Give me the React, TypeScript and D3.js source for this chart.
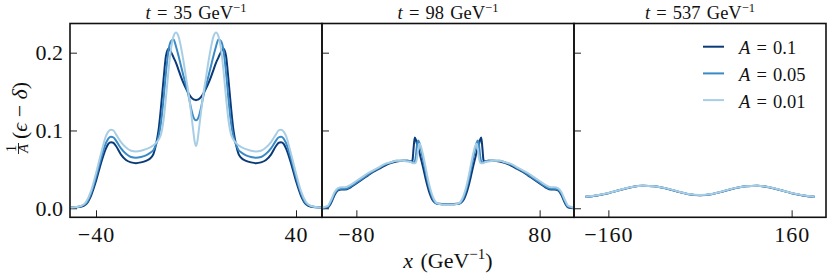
import React, { useEffect, useRef } from 'react';
import * as d3 from 'd3';

// panel 1: t = 35 GeV^-1
const x35 = [-50, -46, -44, -42, -40, -38, -36, -35, -34, -33, -32, -30, -28, -26, -24, -22, -20, -18, -17, -16, -15,
  -14, -13, -12, -11, -10, -9, -8, -7, -6, -5, -4, -3, -2, -1, -0.5, 0, 0.5, 1, 2, 3, 4, 5, 6, 7, 8, 9, 10, 11, 12, 13, 14,
  15, 16, 17, 18, 20, 22, 24, 26, 28, 30, 32, 33, 34, 35, 36, 38, 40, 42, 44, 46, 50];
const a01_t35 = [0.001, 0.002, 0.005, 0.016, 0.035, 0.058, 0.077, 0.083, 0.085, 0.084, 0.080, 0.069, 0.062, 0.059, 0.058, 0.059, 0.061, 0.065, 0.070, 0.082, 0.100,
  0.130, 0.165, 0.196, 0.205, 0.201, 0.194, 0.187, 0.178, 0.169, 0.161, 0.154, 0.148, 0.143, 0.140, 0.1395, 0.139, 0.1395, 0.140, 0.143, 0.148, 0.154,
  0.161, 0.169, 0.178, 0.187, 0.194, 0.201, 0.205, 0.196, 0.165, 0.130, 0.100, 0.082, 0.070, 0.065, 0.061, 0.059, 0.058, 0.059, 0.062, 0.069, 0.080,
  0.084, 0.085, 0.083, 0.077, 0.058, 0.035, 0.016, 0.005, 0.002, 0.001];
const a005_t35 = [0.001, 0.003, 0.006, 0.019, 0.040, 0.064, 0.084, 0.090, 0.092, 0.091, 0.087, 0.077, 0.070, 0.066, 0.065, 0.066, 0.068, 0.072, 0.075, 0.082, 0.092,
  0.110, 0.140, 0.175, 0.203, 0.215, 0.217, 0.208, 0.196, 0.183, 0.170, 0.158, 0.145, 0.129, 0.117, 0.114, 0.113, 0.114, 0.117, 0.129, 0.145, 0.158,
  0.170, 0.183, 0.196, 0.208, 0.217, 0.215, 0.203, 0.175, 0.140, 0.110, 0.092, 0.082, 0.075, 0.072, 0.068, 0.066, 0.065, 0.066, 0.070, 0.077, 0.087,
  0.091, 0.092, 0.090, 0.084, 0.064, 0.040, 0.019, 0.006, 0.003, 0.001];
const a001_t35 = [0.001, 0.003, 0.008, 0.022, 0.045, 0.070, 0.093, 0.099, 0.101, 0.100, 0.095, 0.085, 0.078, 0.074, 0.073, 0.074, 0.076, 0.079, 0.081, 0.084, 0.088,
  0.095, 0.113, 0.143, 0.177, 0.205, 0.221, 0.226, 0.221, 0.207, 0.189, 0.168, 0.148, 0.124, 0.097, 0.085, 0.080, 0.085, 0.097, 0.124, 0.148, 0.168,
  0.189, 0.207, 0.221, 0.226, 0.221, 0.205, 0.177, 0.143, 0.113, 0.095, 0.088, 0.084, 0.081, 0.079, 0.076, 0.074, 0.073, 0.074, 0.078, 0.085, 0.095,
  0.100, 0.101, 0.099, 0.093, 0.070, 0.045, 0.022, 0.008, 0.003, 0.001];

// panel 2: t = 98 GeV^-1
const x98 = [-110, -105, -102, -99, -96, -93, -90, -85, -80, -75, -70, -65, -60, -55, -50, -45, -40, -35, -32, -31, -30, -29, -28, -27, -26, -25, -24,
  -22, -20, -18, -16, -14, -12, -10, -5, 0, 5, 10, 12, 14, 16, 18, 20, 22, 24, 25, 26, 27, 28, 29, 30, 31, 32, 35, 40, 45, 50, 55, 60, 65, 70, 75,
  80, 85, 90, 93, 96, 99, 102, 105, 110];
const a01_t98 = [0.000, 0.001, 0.007, 0.017, 0.023, 0.024, 0.024, 0.027, 0.032, 0.037, 0.042, 0.047, 0.051, 0.055, 0.058, 0.060, 0.061, 0.061, 0.060, 0.062, 0.078, 0.091, 0.088, 0.082, 0.077, 0.072, 0.066,
  0.054, 0.041, 0.029, 0.019, 0.012, 0.008, 0.006, 0.0055, 0.0055, 0.0055, 0.006, 0.008, 0.012, 0.019, 0.029, 0.041, 0.054, 0.066, 0.072, 0.077, 0.082, 0.088, 0.091, 0.078, 0.062, 0.060, 0.061, 0.061, 0.060, 0.058, 0.055, 0.051, 0.047, 0.042, 0.037,
  0.032, 0.027, 0.024, 0.024, 0.023, 0.017, 0.007, 0.001, 0.000];
const a005_t98 = [0.000, 0.002, 0.009, 0.019, 0.024, 0.025, 0.025, 0.028, 0.033, 0.038, 0.043, 0.048, 0.052, 0.056, 0.059, 0.061, 0.061, 0.061, 0.060, 0.059, 0.059, 0.060, 0.068, 0.082, 0.087, 0.084, 0.078,
  0.064, 0.050, 0.036, 0.024, 0.015, 0.009, 0.006, 0.005, 0.005, 0.005, 0.006, 0.009, 0.015, 0.024, 0.036, 0.050, 0.064, 0.078, 0.084, 0.087, 0.082, 0.068, 0.060, 0.059, 0.059, 0.060, 0.061, 0.061, 0.061, 0.059, 0.056, 0.052, 0.048, 0.043, 0.038,
  0.033, 0.028, 0.025, 0.025, 0.024, 0.019, 0.009, 0.002, 0.000];
const a001_t98 = [0.001, 0.003, 0.011, 0.021, 0.026, 0.027, 0.027, 0.030, 0.035, 0.040, 0.045, 0.049, 0.053, 0.057, 0.059, 0.061, 0.061, 0.060, 0.059, 0.058, 0.058, 0.058, 0.059, 0.065, 0.077, 0.083, 0.081,
  0.070, 0.056, 0.041, 0.028, 0.018, 0.011, 0.007, 0.005, 0.005, 0.005, 0.007, 0.011, 0.018, 0.028, 0.041, 0.056, 0.070, 0.081, 0.083, 0.077, 0.065, 0.059, 0.058, 0.058, 0.058, 0.059, 0.060, 0.061, 0.061, 0.059, 0.057, 0.053, 0.049, 0.045, 0.040,
  0.035, 0.030, 0.027, 0.027, 0.026, 0.021, 0.011, 0.003, 0.001];

// panel 3: t = 537 GeV^-1
const x537 = [-200, -180, -160, -140, -120, -100, -80, -60, -40, -20, 0, 20, 40, 60, 80, 100, 120, 140, 160, 180, 200];
const a01_t537 = [0.0147, 0.0164, 0.0194, 0.0234, 0.0271, 0.0289, 0.0282, 0.0256, 0.0215, 0.0180, 0.0166, 0.0180, 0.0215, 0.0256, 0.0282, 0.0289, 0.0271, 0.0234, 0.0194, 0.0164, 0.0147];
const a005_t537 = [0.0148, 0.0165, 0.0195, 0.0235, 0.0272, 0.0290, 0.0283, 0.0257, 0.0217, 0.0182, 0.0168, 0.0182, 0.0217, 0.0257, 0.0283, 0.0290, 0.0272, 0.0235, 0.0195, 0.0165, 0.0148];
const a001_t537 = [0.0149, 0.0166, 0.0196, 0.0236, 0.0273, 0.0291, 0.0284, 0.0259, 0.0219, 0.0184, 0.0170, 0.0184, 0.0219, 0.0259, 0.0284, 0.0291, 0.0273, 0.0236, 0.0196, 0.0166, 0.0149];

const times = ['35', '98', '537'];
const xDomains = [[-50.4, 50.4], [-110, 110], [-220, 220]];
const xTicks = [[-40, 40], [-80, 80], [-160, 160]];
const yTicks = [0, 0.1, 0.2];
const legendLabels = ['0.1', '0.05', '0.01'];
const colors = ['#0b3a78', '#3a8ac5', '#a8cee6'];

const panels = [
  { xs: x35, series: [a01_t35, a005_t35, a001_t35] },
  { xs: x98, series: [a01_t98, a005_t98, a001_t98] },
  { xs: x537, series: [a01_t537, a005_t537, a001_t537] },
];

const FONT = '"Liberation Serif", "DejaVu Serif", serif';
const SP = '\u2004'; // math-ish spacing around "="

const App = () => {
  const svgRef = useRef<SVGSVGElement>(null);

  useEffect(() => {
    const width = 830;
    const height = 277;
    const top = 23.5;
    const bottom = 217.3;
    const panelW = 252;
    const lefts = [70, 322, 574];

    const svg = d3.select(svgRef.current).attr('width', width).attr('height', height);
    svg.selectAll('*').remove();

    const y = d3.scaleLinear().domain([-0.0116, 0.2375]).range([bottom, top]);

    panels.forEach((p, i) => {
      const left = lefts[i];
      const x = d3.scaleLinear().domain(xDomains[i]).range([left, left + panelW]);
      const g = svg.append('g');

      // clip lines to the frame
      g.append('clipPath').attr('id', `clip${i}`)
        .append('rect').attr('x', left).attr('y', top).attr('width', panelW).attr('height', bottom - top);

      // x ticks (inward)
      const xa = g.append('g')
        .attr('transform', `translate(0, ${bottom})`)
        .call(d3.axisBottom(x).tickValues(xTicks[i]).tickSize(-7).tickPadding(9).tickSizeOuter(0));
      xa.select('.domain').remove();
      xa.selectAll('line').attr('stroke', '#222');
      xa.selectAll('text').attr('font-family', FONT).attr('font-size', 22).attr('fill', '#111')
        .attr('letter-spacing', 1);

      // y ticks (inward), labels only on first panel
      const ya = g.append('g')
        .attr('transform', `translate(${left}, 0)`)
        .call(d3.axisLeft(y).tickValues(yTicks).tickSize(-7).tickPadding(7).tickSizeOuter(0)
          .tickFormat(i === 0 ? d3.format('.1f') : () => ''));
      ya.select('.domain').remove();
      ya.selectAll('line').attr('stroke', '#222');
      ya.selectAll('text').attr('font-family', FONT).attr('font-size', 22).attr('fill', '#111');

      const line = d3.line<number>()
        .x((_, j) => x(p.xs[j]))
        .y(d => y(d))
        .curve(d3.curveMonotoneX);

      p.series.forEach((s, k) => {
        g.append('path')
          .datum(s)
          .attr('clip-path', `url(#clip${i})`)
          .attr('fill', 'none')
          .attr('stroke', colors[k])
          .attr('stroke-width', 2)
          .attr('stroke-linejoin', 'round')
          .attr('d', line);
      });

      // frame
      g.append('rect')
        .attr('x', left).attr('y', top).attr('width', panelW).attr('height', bottom - top)
        .attr('fill', 'none').attr('stroke', '#111').attr('stroke-width', 1.6);

      // title
      const title = g.append('text')
        .attr('x', left + panelW / 2).attr('y', 18.5)
        .attr('text-anchor', 'middle')
        .attr('font-family', FONT).attr('font-size', 18.5).attr('fill', '#111');
      title.append('tspan').attr('font-style', 'italic').text('t');
      title.append('tspan').text(`${SP}=${SP}${times[i]}${SP}GeV`);
      title.append('tspan').attr('font-size', 12.5).attr('dy', -7).text('−1');
    });

    // legend in the third panel
    const lg = svg.append('g');
    legendLabels.forEach((lab, k) => {
      const ly = 46.7 + k * 26.7;
      lg.append('line')
        .attr('x1', 703).attr('x2', 724).attr('y1', ly).attr('y2', ly)
        .attr('stroke', colors[k]).attr('stroke-width', 2);
      const t = lg.append('text')
        .attr('x', 739).attr('y', ly + 7.5)
        .attr('font-family', FONT).attr('font-size', 18.5).attr('fill', '#111');
      t.append('tspan').attr('font-style', 'italic').text('A');
      t.append('tspan').text(`${SP}=${SP}${lab}`);
    });

    // x label
    const xl = svg.append('text')
      .attr('x', 448).attr('y', 268)
      .attr('text-anchor', 'middle')
      .attr('font-family', FONT).attr('font-size', 22).attr('fill', '#111');
    xl.append('tspan').attr('font-style', 'italic').text('x');
    xl.append('tspan').text(`${SP}(GeV`);
    xl.append('tspan').attr('font-size', 15).attr('dy', -9).text('−1');
    xl.append('tspan').attr('dy', 9).text(')');

    // y label: 1/A (ϵ − δ), rotated
    const yl = svg.append('g').attr('transform', 'translate(27, 120) rotate(-90)')
      .attr('font-family', FONT).attr('fill', '#111');
    yl.append('text').attr('x', -28.5).attr('y', -11).attr('text-anchor', 'middle')
      .attr('font-size', 14).text('1');
    yl.append('line').attr('x1', -34).attr('x2', -23).attr('y1', -8.5).attr('y2', -8.5)
      .attr('stroke', '#111').attr('stroke-width', 0.9);
    yl.append('text').attr('x', -28.5).attr('y', 1).attr('text-anchor', 'middle')
      .attr('font-size', 14).attr('font-style', 'italic').text('A');
    const yt = yl.append('text').attr('x', -19).attr('y', 0).attr('font-size', 22);
    yt.append('tspan').text('(');
    yt.append('tspan').attr('font-style', 'italic').text('ϵ');
    yt.append('tspan').text(' − ');
    yt.append('tspan').attr('font-style', 'italic').text('δ');
    yt.append('tspan').text(')');
  }, []);

  return <svg ref={svgRef} style={{ position: 'absolute', left: 0, top: 0 }}></svg>;
};

export default App;
